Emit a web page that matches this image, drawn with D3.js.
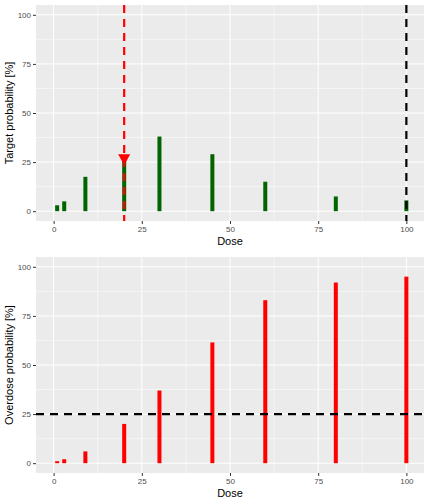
<!DOCTYPE html><html><head><script src="https://cdn.jsdelivr.net/npm/d3@7"></script>
<style>body{margin:0;background:#fff}text{font-family:"Liberation Sans",Arial,sans-serif}</style></head><body>
<svg id="c" width="432" height="504"></svg>
<script>
const doses=[1,3,9,20,30,45,60,80,100];
const targetProb=[3,5,17.5,26,38,29,15,7.5,5.5];
const overdoseProb=[1,2,6,20,37,61.5,83,92,95];
const xTicks=[0,25,50,75,100];
const yTicks=[0,25,50,75,100];
const svg=d3.select("#c");
const x=d3.scaleLinear().domain([-5,105]).range([36,424]);
function panel(top,bottom,vals,color,ylab,extra){
  const y=d3.scaleLinear().domain([-5,105]).range([bottom,top]);
  const g=svg.append("g");
  g.append("rect").attr("x",36).attr("y",top).attr("width",388).attr("height",bottom-top).attr("fill","#EBEBEB");
  [12.5,37.5,62.5,87.5].forEach(v=>{
    g.append("line").attr("x1",x(v)).attr("x2",x(v)).attr("y1",top).attr("y2",bottom).attr("stroke","#fff").attr("stroke-width",0.5);
    g.append("line").attr("y1",y(v)).attr("y2",y(v)).attr("x1",36).attr("x2",424).attr("stroke","#fff").attr("stroke-width",0.5);
  });
  xTicks.forEach(v=>g.append("line").attr("x1",x(v)).attr("x2",x(v)).attr("y1",top).attr("y2",bottom).attr("stroke","#fff").attr("stroke-width",1));
  yTicks.forEach(v=>g.append("line").attr("y1",y(v)).attr("y2",y(v)).attr("x1",36).attr("x2",424).attr("stroke","#fff").attr("stroke-width",1));
  g.selectAll(".b").data(doses).join("rect").attr("x",d=>x(d)-2).attr("width",4)
   .attr("y",(d,i)=>y(vals[i])).attr("height",(d,i)=>y(0)-y(vals[i])).attr("fill",color);
  extra(g,y);
  const ax=g.append("g").attr("transform",`translate(0,${bottom})`).call(d3.axisBottom(x).tickValues(xTicks).tickSize(3).tickPadding(2));
  const ay=g.append("g").attr("transform",`translate(36,0)`).call(d3.axisLeft(y).tickValues(yTicks).tickSize(3).tickPadding(2));
  [ax,ay].forEach(a=>{a.select(".domain").remove();a.selectAll("line").attr("stroke","#333");a.selectAll("text").attr("fill","#4D4D4D").attr("font-size",8);});
  g.append("text").attr("x",230).attr("y",bottom+24).attr("text-anchor","middle").attr("font-size",11).text("Dose");
  g.append("text").attr("transform",`translate(13,${(top+bottom)/2}) rotate(-90)`).attr("text-anchor","middle").attr("font-size",11).text(ylab);
}
panel(5,221,targetProb,"#006400","Target probability [%]",(g,y)=>{
  g.append("line").attr("x1",x(20)).attr("x2",x(20)).attr("y1",5).attr("y2",221).attr("stroke","red").attr("stroke-width",2.2).attr("stroke-dasharray","8,6");
  g.append("line").attr("x1",x(100)).attr("x2",x(100)).attr("y1",5).attr("y2",221).attr("stroke","black").attr("stroke-width",2.2).attr("stroke-dasharray","8,6");
  const ty=y(26.5);
  g.append("path").attr("d",`M${x(20)-6},${ty-5}L${x(20)+6},${ty-5}L${x(20)},${ty+6}Z`).attr("fill","red");
});
panel(257,473,overdoseProb,"red","Overdose probability [%]",(g,y)=>{
  g.append("line").attr("x1",36).attr("x2",424).attr("y1",y(25)).attr("y2",y(25)).attr("stroke","black").attr("stroke-width",2.2).attr("stroke-dasharray","8,6");
});
</script></body></html>
